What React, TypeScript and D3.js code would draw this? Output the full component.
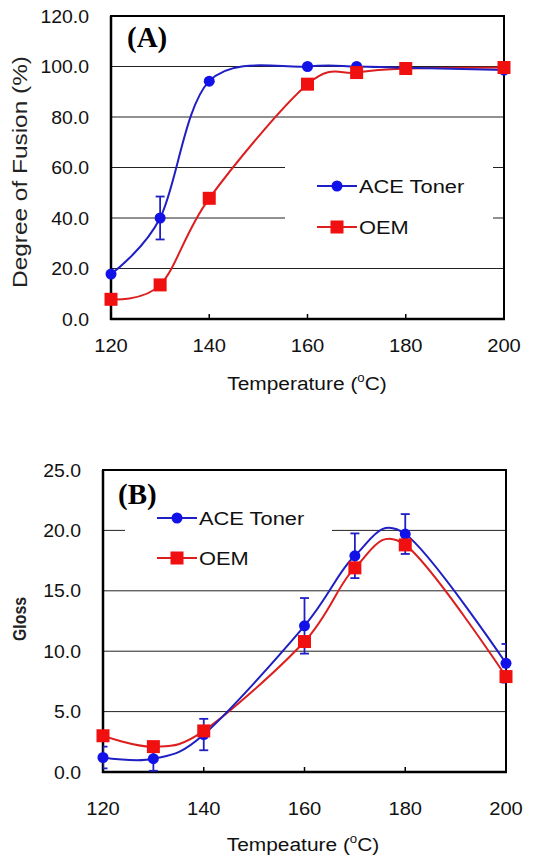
import * as d3 from "d3";

// shared x categories
const temps = [120, 130, 140, 160, 170, 180, 200];
const xTicks = [120, 140, 160, 180, 200];
const seriesNames = ["ACE Toner", "OEM"];

// (A) degree of fusion
const fusionAce = [17.8, 40.0, 94.2, 100.0, 100.0, 99.5, 98.6];
const fusionAceErr = [0, 8.5, 0, 0, 0, 0, 0];
const fusionOem = [7.8, 13.5, 47.8, 93.0, 97.6, 99.2, 99.6];
const fusionTicks = [0, 20, 40, 60, 80, 100, 120];

// (B) gloss
const glossAce = [1.2, 1.1, 3.1, 12.1, 17.9, 19.7, 9.0];
const glossAceErr = [0.9, 1.0, 1.3, 2.3, 1.85, 1.65, 1.6];
const glossOem = [3.0, 2.1, 3.4, 10.8, 16.9, 18.8, 7.9];
const glossTicks = [0, 5, 10, 15, 20, 25];

const BLUE_LINE = "#1f1fc4";
const BLUE = "#1212e8";
const RED_LINE = "#dc1e1e";
const RED = "#f01010";
const SANS = "'Liberation Sans', Arial, sans-serif";
const SERIF = "'Liberation Serif', 'Times New Roman', serif";

type PanelProps = {
  id: string;
  left: number;
  right: number;
  top: number;
  bottom: number;
  yMax: number;
  yTicks: number[];
  ace: number[];
  aceErr: number[];
  oem: number[];
  tag: string;
  tagX: number;
  tagY: number;
  legend: { x0: number; y0: number; x1: number; y1: number; lx: number; ly: number; gap: number };
  tickLabelRight: number;
  xLabelY: number;
  xTitle: string;
  xTitleX: number;
  xTitleY: number;
  yTitle: string;
  yTitleX: number;
  yTitleY: number;
  yTitleLen: number;
  yTitleBold?: boolean;
};

const Panel = (p: PanelProps) => {
  const x = d3.scaleLinear().domain([120, 200]).range([p.left, p.right]);
  const y = d3.scaleLinear().domain([0, p.yMax]).range([p.bottom, p.top]);
  // excel-like smoothed line
  const line = d3
    .line<number>()
    .x((_, i) => x(temps[i]))
    .y((d) => y(d))
    .curve(d3.curveCatmullRom.alpha(0));
  const fmt = d3.format(".1f");
  const lg = p.legend;

  return (
    <g>
      <defs>
        <clipPath id={p.id}>
          <rect x={p.left} y={p.top} width={p.right - p.left} height={p.bottom - p.top} />
        </clipPath>
      </defs>
      {/* gridlines */}
      {p.yTicks.slice(1, -1).map((t) => (
        <line key={t} x1={p.left} x2={p.right} y1={y(t)} y2={y(t)} stroke="#222" strokeWidth={1} />
      ))}
      {/* legend box */}
      <rect x={lg.x0} y={lg.y0} width={lg.x1 - lg.x0} height={lg.y1 - lg.y0} fill="white" />
      {/* frame */}
      <rect
        x={p.left}
        y={p.top}
        width={p.right - p.left}
        height={p.bottom - p.top}
        fill="none"
        stroke="black"
        strokeWidth={2}
      />
      <line x1={p.left} x2={p.left} y1={p.top} y2={p.bottom + 1} stroke="black" strokeWidth={2.5} />
      <line x1={p.left - 1} x2={p.right + 1} y1={p.bottom} y2={p.bottom} stroke="black" strokeWidth={2.5} />
      {xTicks.map((t) => (
        <line key={t} x1={x(t)} x2={x(t)} y1={p.bottom} y2={p.bottom - 5} stroke="black" strokeWidth={1.5} />
      ))}

      {/* tick labels */}
      {p.yTicks.map((t) => (
        <text
          key={t}
          transform={`translate(${p.tickLabelRight},${y(t) + 6.5}) scale(1.08,1)`}
          textAnchor="end"
          fontSize={18}
          fontFamily={SANS}
          fill="#111"
        >
          {fmt(t)}
        </text>
      ))}
      {xTicks.map((t) => (
        <text
          key={t}
          transform={`translate(${x(t)},${p.xLabelY}) scale(1.12,1)`}
          textAnchor="middle"
          fontSize={18}
          fontFamily={SANS}
          fill="#111"
        >
          {t}
        </text>
      ))}

      {/* series */}
      <g clipPath={`url(#${p.id})`}>
        <path d={line(p.oem) ?? ""} fill="none" stroke={RED_LINE} strokeWidth={2} />
        <path d={line(p.ace) ?? ""} fill="none" stroke={BLUE_LINE} strokeWidth={2} />
        {p.ace.map((v, i) =>
          p.aceErr[i] > 0 ? (
            <g key={i} stroke={BLUE_LINE} strokeWidth={1.8}>
              <line x1={x(temps[i])} x2={x(temps[i])} y1={y(v - p.aceErr[i])} y2={y(v + p.aceErr[i])} />
              <line x1={x(temps[i]) - 4.5} x2={x(temps[i]) + 4.5} y1={y(v - p.aceErr[i])} y2={y(v - p.aceErr[i])} />
              <line x1={x(temps[i]) - 4.5} x2={x(temps[i]) + 4.5} y1={y(v + p.aceErr[i])} y2={y(v + p.aceErr[i])} />
            </g>
          ) : null
        )}
      </g>
      {p.ace.map((v, i) => (
        <circle key={i} cx={x(temps[i])} cy={y(v)} r={5.5} fill={BLUE} />
      ))}
      {p.oem.map((v, i) => (
        <rect key={i} x={x(temps[i]) - 6.5} y={y(v) - 6.5} width={13} height={13} fill={RED} />
      ))}

      {/* legend */}
      {seriesNames.map((name, i) => {
        const ly = lg.ly + i * lg.gap;
        return (
          <g key={name}>
            <line x1={lg.lx} x2={lg.lx + 40} y1={ly} y2={ly} stroke={i === 0 ? BLUE_LINE : RED_LINE} strokeWidth={2} />
            {i === 0 ? (
              <circle cx={lg.lx + 20} cy={ly} r={5.5} fill={BLUE} />
            ) : (
              <rect x={lg.lx + 13.5} y={ly - 6.5} width={13} height={13} fill={RED} />
            )}
            <text
              transform={`translate(${lg.lx + 42},${ly + 7}) scale(1.15,1)`}
              fontSize={19}
              fontFamily={SANS}
              fill="#111"
            >
              {name}
            </text>
          </g>
        );
      })}

      {/* panel tag */}
      <text x={p.tagX} y={p.tagY} fontSize={29} fontWeight="bold" fontFamily={SERIF}>
        {p.tag}
      </text>

      {/* axis titles */}
      <text
        transform={`translate(${p.xTitleX},${p.xTitleY}) scale(1.1,1)`}
        textAnchor="middle"
        fontSize={19}
        fontFamily={SANS}
        fill="#111"
      >
        {p.xTitle} (<tspan fontSize={12} dy={-8}>o</tspan>
        <tspan dy={8}>C)</tspan>
      </text>
      <text
        transform={`translate(${p.yTitleX},${p.yTitleY}) rotate(-90)`}
        textAnchor="middle"
        fontSize={p.yTitleBold ? 18 : 20}
        fontWeight={p.yTitleBold ? "bold" : "normal"}
        fontFamily={SANS}
        fill="#222"
        textLength={p.yTitleLen}
        lengthAdjust="spacingAndGlyphs"
      >
        {p.yTitle}
      </text>
    </g>
  );
};

export default function App() {
  return (
    <svg
      width={542}
      height={857}
      style={{ position: "absolute", left: 0, top: 0, background: "white" }}
    >
      <rect width={542} height={857} fill="white" />
      <Panel
        id="clipA"
        left={111}
        right={504}
        top={16}
        bottom={319}
        yMax={120}
        yTicks={fusionTicks}
        ace={fusionAce}
        aceErr={fusionAceErr}
        oem={fusionOem}
        tag="(A)"
        tagX={127}
        tagY={47}
        legend={{ x0: 285, y0: 150, x1: 493, y1: 248, lx: 317, ly: 186, gap: 41 }}
        tickLabelRight={89}
        xLabelY={352}
        xTitle="Temperature"
        xTitleX={307}
        xTitleY={390}
        yTitle="Degree of Fusion (%)"
        yTitleX={27}
        yTitleY={172}
        yTitleLen={232}
      />
      <Panel
        id="clipB"
        left={103}
        right={506}
        top={470}
        bottom={772}
        yMax={25}
        yTicks={glossTicks}
        ace={glossAce}
        aceErr={glossAceErr}
        oem={glossOem}
        tag="(B)"
        tagX={118}
        tagY={504}
        legend={{ x0: 125, y0: 505, x1: 332, y1: 575, lx: 157, ly: 518, gap: 40 }}
        tickLabelRight={81}
        xLabelY={815}
        xTitle="Tempeature"
        xTitleX={303}
        xTitleY={851}
        yTitle="Gloss"
        yTitleX={26}
        yTitleY={619}
        yTitleLen={44}
        yTitleBold
      />
    </svg>
  );
}
